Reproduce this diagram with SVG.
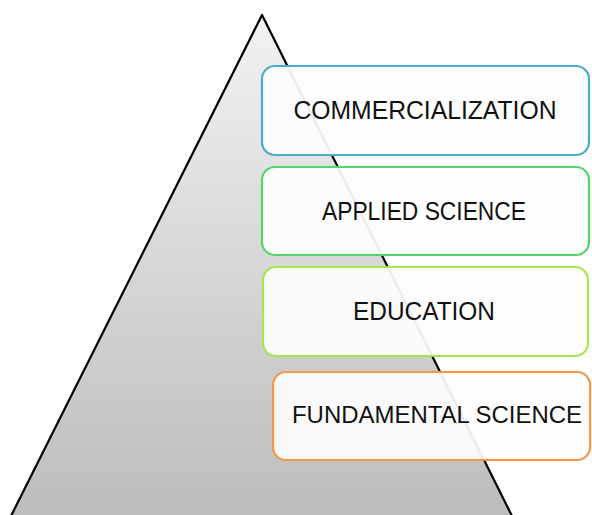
<svg xmlns="http://www.w3.org/2000/svg" width="592" height="515" viewBox="0 0 592 515">
<style>
.box{fill:#fdfdfd;fill-opacity:0.93;stroke-width:2.2}
.lbl{font-family:"Liberation Sans",Arial,sans-serif;font-size:26px;fill:#111;text-anchor:middle}
.sm{font-size:24px}
</style>
<defs>
<linearGradient id="g" x1="0" y1="0" x2="0" y2="1">
<stop offset="0" stop-color="#f2f2f2"/>
<stop offset="1" stop-color="#bcbcbc"/>
</linearGradient>
</defs>
<rect width="592" height="515" fill="#fff"/>
<g id="pyramid">
<polygon points="262,15 10,518 513,518" fill="url(#g)" stroke="#000" stroke-width="2.2" stroke-linejoin="round"/>
</g>
<g id="connectors"></g>
<g id="commercialization">
<rect class="box" x="262" y="66" width="327" height="89" rx="13" stroke="#4bacc6"/>
<text class="lbl" x="425" y="119" textLength="263" lengthAdjust="spacingAndGlyphs">COMMERCIALIZATION</text>
</g>
<g id="applied-science">
<rect class="box" x="262" y="167" width="327" height="88" rx="13" stroke="#55d46e"/>
<text class="lbl" x="424" y="220" textLength="204" lengthAdjust="spacingAndGlyphs">APPLIED SCIENCE</text>
</g>
<g id="education">
<rect class="box" x="263" y="267" width="325" height="89" rx="13" stroke="#a8e44c"/>
<text class="lbl" x="424" y="320" textLength="142" lengthAdjust="spacingAndGlyphs">EDUCATION</text>
</g>
<g id="fundamental-science">
<rect class="box" x="273" y="372" width="317" height="88" rx="13" stroke="#f79646"/>
<text class="lbl sm" x="437" y="423" textLength="290" lengthAdjust="spacingAndGlyphs">FUNDAMENTAL SCIENCE</text>
</g>
</svg>
